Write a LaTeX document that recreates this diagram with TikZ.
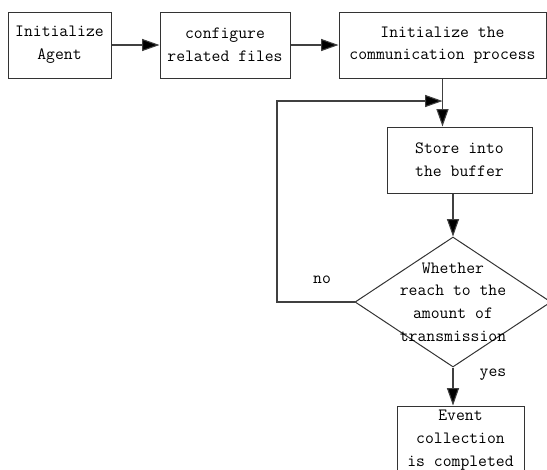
\documentclass[tikz,border=0pt]{standalone}
\usepackage{tikz}
\usetikzlibrary{arrows.meta,shapes.geometric}

\begin{document}
\begin{tikzpicture}[x=0.75pt,y=0.75pt,yscale=-1,xscale=1,
  every node/.style={font=\fontsize{12.9}{17}\ttfamily, text=black},
  procbox/.style={draw=black!80, line width=0.75pt, align=center, inner sep=0pt, fill=white},
  decision/.style={diamond, draw=black!80, line width=0.75pt, inner sep=0pt, minimum width=147pt, minimum height=97.5pt},
  flow/.style={draw=black!75, line width=0.8pt, -{Triangle[length=13pt,width=9pt,fill=black]}}]
%set diagram size
\useasboundingbox (0,0) rectangle (547,469);

%Shape: Rectangle
\node [procbox, minimum width=77.25pt, minimum height=49.5pt] (agent) at (59.5,45) {Initialize\\Agent};
%Shape: Rectangle
\node [procbox, minimum width=97.5pt, minimum height=49.5pt] (config) at (225,45) {configure\\related files};
%Shape: Rectangle
\node [procbox, minimum width=155.25pt, minimum height=49.5pt] (comm) at (442.5,45) {Initialize the\\communication process};
%Shape: Rectangle
\node [procbox, minimum width=108.75pt, minimum height=49.5pt] (store) at (459.5,160) {Store into\\the buffer};
%Shape: Diamond
\node [decision] (check) at (453,302) {};
\node [align=center, inner sep=0pt] (checktext) at (453,302) {Whether\\reach to the\\amount of\\transmission};
%Shape: Rectangle
\node [procbox, minimum width=95.25pt, minimum height=51pt] (event) at (460.5,440) {Event\\collection\\is completed};

\coordinate (back) at (277,101);

%Straight Lines
\draw [flow] (agent) -- (config);
\draw [flow] (config) -- (comm);
\draw [flow] (comm.south) -- (comm.south |- store.north);
\draw [flow] (store.south -| check.north) -- (check.north);
\draw [flow] (check.south) -- (check.south |- event.north);
\draw [flow] (check.west) -- (check.west -| back) -- (back) -- (back -| comm.south);

% Text Node
\node (no) at (322,280) {no};
% Text Node
\node (yes) at (493,375) {yes};
\end{tikzpicture}
\end{document}
